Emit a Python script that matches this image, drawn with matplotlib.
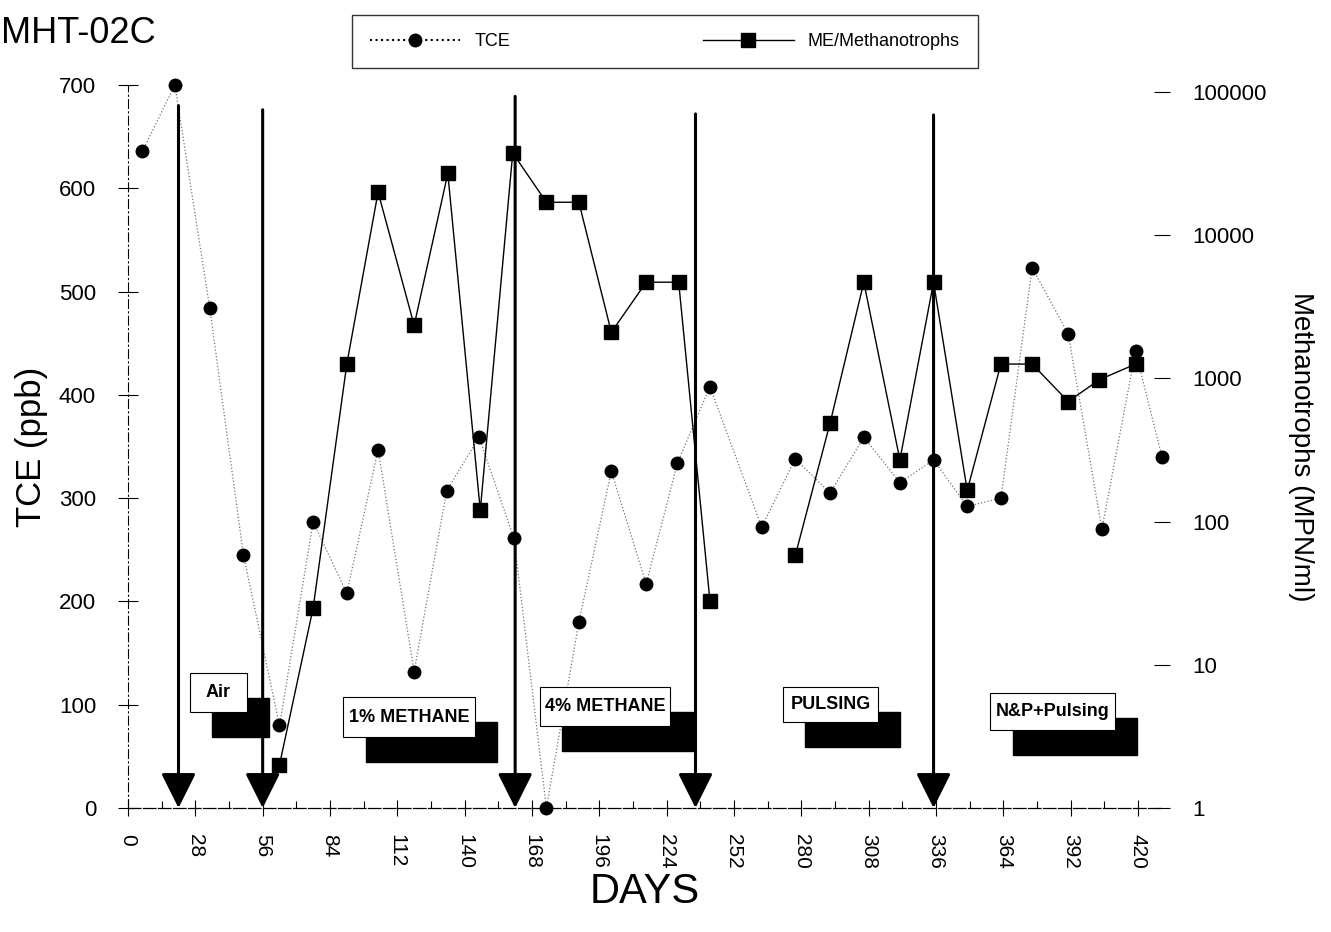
import matplotlib
matplotlib.use("Agg")
import matplotlib.pyplot as plt
from matplotlib.patches import Rectangle
from matplotlib.lines import Line2D
from matplotlib.ticker import FixedLocator, MultipleLocator, NullLocator

plt.rcParams['font.family'] = ['Liberation Sans', 'DejaVu Sans']

# TCE (ppb), left axis
tce_days = [6, 19.5, 34, 48, 63, 77, 91, 104, 119, 132.5, 146, 160.5, 174, 187.5,
            201, 215.5, 228.5, 242, 263.5, 277.5, 292, 306, 321, 335, 349, 363,
            376, 391, 405, 419, 430]
tce_ppb = [636, 700, 484, 245, 80, 277, 208, 347, 132, 307, 359, 261, 0, 180,
           326, 217, 334, 408, 272, 338, 305, 359, 315, 337, 292, 300,
           523, 459, 270, 442, 340]

# Methanotrophs (MPN/ml), right log axis - two sampling runs (no line between them)
meth_days_a = [63, 77, 91, 104, 119, 133, 146.5, 160, 174, 187.5, 201, 215.5, 229, 242]
meth_mpn_a = [2, 25, 1260, 20000, 2350, 27000, 120, 37500, 17000, 17000, 2100,
              4700, 4700, 28]
meth_days_b = [277.5, 292, 306, 321, 335, 349, 363, 376, 391, 404, 419]
meth_mpn_b = [58, 490, 4700, 270, 4700, 165, 1260, 1260, 690, 980, 1260]

# treatment changes (arrows) and phase labels
phase_days = [21, 56, 161, 236, 335]
phase_tops = [680, 676, 689, 672, 671]
phase_labels = ["Air", "1% METHANE", "4% METHANE", "PULSING", "N&P+Pulsing"]
# label boxes: (x0, x1, y0, y1) in days / ppb
phase_boxes = [(25.7, 49.3, 92.9, 130.7),
               (89.6, 144.3, 68.7, 107.5),
               (171.2, 225.5, 79.4, 117.1),
               (272.4, 311.8, 83.3, 117.1),
               (358.6, 410.4, 75.5, 111.3)]

day_ticks = list(range(0, 421, 28))

fig = plt.figure(figsize=(13.31, 9.32), dpi=100)
ax = fig.add_axes([128/1331, 1-808/932, (1162-128)/1331, (808-85)/932])
ax2 = ax.twinx()

ax.set_xlim(0, 430)
ax.set_ylim(0, 700)
ax2.set_yscale('log')
ax2.set_ylim(1, 1.12e5)

# series
ax.plot(tce_days, tce_ppb, ls=':', color='0.45', lw=0.9, zorder=2)
ax.plot(tce_days, tce_ppb, ls='none', marker='o', ms=9, color='k',
        clip_on=False, zorder=7)
for dd, vv in [(meth_days_a, meth_mpn_a), (meth_days_b, meth_mpn_b)]:
    ax2.plot(dd, vv, ls='-', color='k', lw=1.0, marker='s', ms=10,
             clip_on=False, zorder=7)

# phase label boxes with offset shadow
for (x0, x1, y0, y1), lab in zip(phase_boxes, phase_labels):
    ax.add_patch(Rectangle((x0 + 9.3, y0 - 24), x1 - x0, y1 - y0,
                           facecolor='k', edgecolor='k', zorder=3))
    ax.add_patch(Rectangle((x0, y0), x1 - x0, y1 - y0, facecolor='white',
                           edgecolor='k', lw=0.8, zorder=4))
    ax.text((x0 + x1) / 2, (y0 + y1) / 2, lab, ha='center', va='center',
            fontsize=13, fontweight='bold', zorder=5)

# treatment arrows
for d, top in zip(phase_days, phase_tops):
    ax.annotate('', xy=(d, 0), xytext=(d, top),
                arrowprops=dict(arrowstyle='-|>', color='k', lw=2.2,
                                mutation_scale=54, shrinkA=0, shrinkB=0),
                zorder=6, annotation_clip=False)

# axes styling
for s in ['top', 'right']:
    ax.spines[s].set_visible(False)
    ax2.spines[s].set_visible(False)
ax2.spines['left'].set_visible(False)
ax2.spines['bottom'].set_visible(False)
ax.spines['left'].set_linestyle((0, (8, 3, 1, 3)))
ax.spines['left'].set_linewidth(0.8)
ax.spines['bottom'].set_linestyle((0, (10, 2)))
ax.spines['bottom'].set_linewidth(0.9)

ax.xaxis.set_major_locator(FixedLocator(day_ticks))
ax.xaxis.set_minor_locator(MultipleLocator(14))
ax.set_xticklabels([str(d) for d in day_ticks], rotation=-90, fontsize=15)
ax.tick_params(axis='x', which='major', direction='inout', length=12, width=0.8, pad=13)
ax.tick_params(axis='x', which='minor', direction='in', length=5, width=0.8)
ax.yaxis.set_major_locator(MultipleLocator(100))
ax.tick_params(axis='y', direction='inout', length=14, width=0.8, pad=16, labelsize=16)

ax2.yaxis.set_major_locator(FixedLocator([1, 10, 100, 1000, 10000, 100000]))
ax2.yaxis.set_minor_locator(NullLocator())
ax2.set_yticklabels(['1', '10', '100', '1000', '10000', '100000'])
ax2.tick_params(axis='y', direction='inout', length=12, width=0.8, pad=16, labelsize=16)

ax.set_ylabel("TCE (ppb)", fontsize=25, labelpad=8)
ax.set_xlabel("DAYS", fontsize=30, labelpad=2)
ax2.set_ylabel("Methanotrophs (MPN/ml)", fontsize=20, rotation=-90, labelpad=34)

fig.text(0.001, 1-43/932, "MHT-02C", fontsize=26, ha='left', va='baseline')

# legend
handles = [Line2D([], [], ls=':', color='k', marker='o', ms=9),
           Line2D([], [], ls='-', color='k', marker='s', ms=10, lw=1)]
fig.legend(handles, ['TCE', 'ME/Methanotrophs'], loc='center',
           bbox_to_anchor=(352/1331, 1-70/932, 626/1331, 57/932),
           mode='expand', ncol=2, frameon=True, fancybox=False,
           edgecolor='k', fontsize=13, handlelength=5, borderaxespad=0,
           borderpad=1.0)

fig.savefig("out.png", dpi=100, facecolor='white')
